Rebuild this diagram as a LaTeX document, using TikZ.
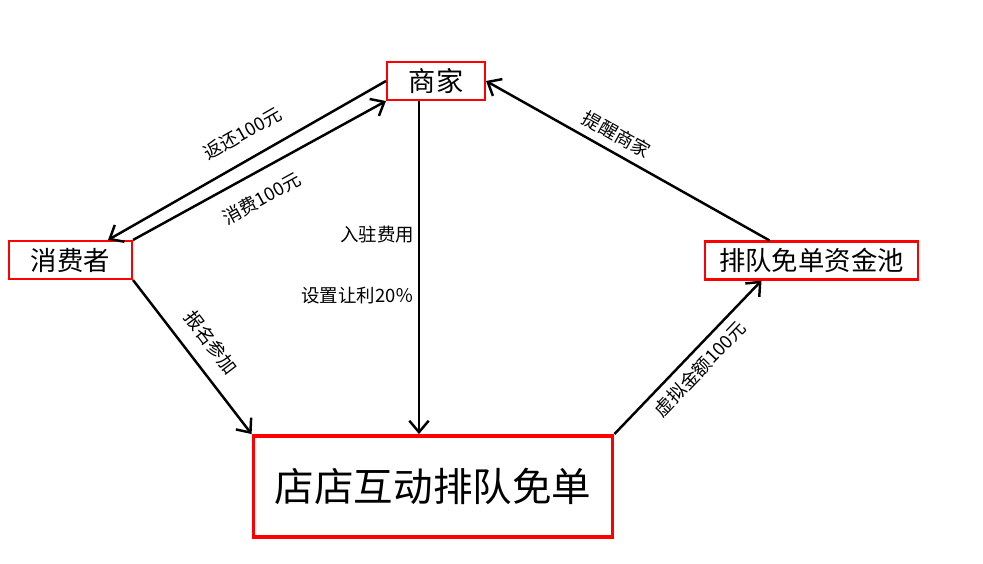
\documentclass[tikz,border=0pt]{standalone}
\usepackage{fontspec}
\setmainfont{Noto Sans CJK SC}
\usetikzlibrary{calc,arrows.meta}
\tikzstyle{box}=[draw=red,line width=1.2pt,inner sep=0pt,minimum height=0.76cm,font=\fontsize{15}{18}\selectfont]
\tikzstyle{link}=[line width=1.4pt,-{Straight Barb[length=6.5pt,width=11pt]}]
\tikzstyle{lab}=[font=\fontsize{10.5}{12}\selectfont,inner sep=2pt]

\begin{document}
\begin{tikzpicture}[x=0.02cm,y=-0.02cm]
\useasboundingbox (0,0) rectangle (983,564);
\node[box,minimum width=1.96cm,font=\fontsize{15.5}{18}\selectfont] (Shang) at (436,81) {商家};
\node[box,minimum width=2.46cm] (Xiao) at (70.5,260) {消费者};
\node[box,minimum width=4.26cm] (Chi) at (811.5,260.5) {排队免单资金池};
\node[box,line width=2.2pt,minimum width=7.18cm,minimum height=2.02cm,font=\fontsize{22.5}{26}\selectfont] (Dian) at (433,486.5) {店店互动排队免单};
\coordinate (S0) at ($(Shang.south)+(-17,0)$);
\draw[link] (Shang.west) -- node[lab,sloped,above=7pt,pos=0.47] {返还100元} ($(Xiao.north east)+(-25,0)$);
\draw[link] (Xiao.north east) -- node[lab,sloped,below=7pt,pos=0.46] {消费100元} (Shang.south west);
\draw[link] (S0) -- node[lab,pos=0.40,left] {入驻费用} node[lab,pos=0.585,left] {设置让利20％} (S0 |- Dian.north);
\draw[link] (Xiao.south east) -- node[lab,sloped,above=6pt] {报名参加} (Dian.north west);
\draw[link] (Dian.north east) -- node[lab,sloped,below=2pt] {虚拟金额100元} ($(Chi.south)+(-50,0)$);
\draw[link] ($(Chi.north)+(-42,0)$) -- node[lab,sloped,above=2.5pt,pos=0.57] {提醒商家} (Shang.east);
\end{tikzpicture}
\end{document}
